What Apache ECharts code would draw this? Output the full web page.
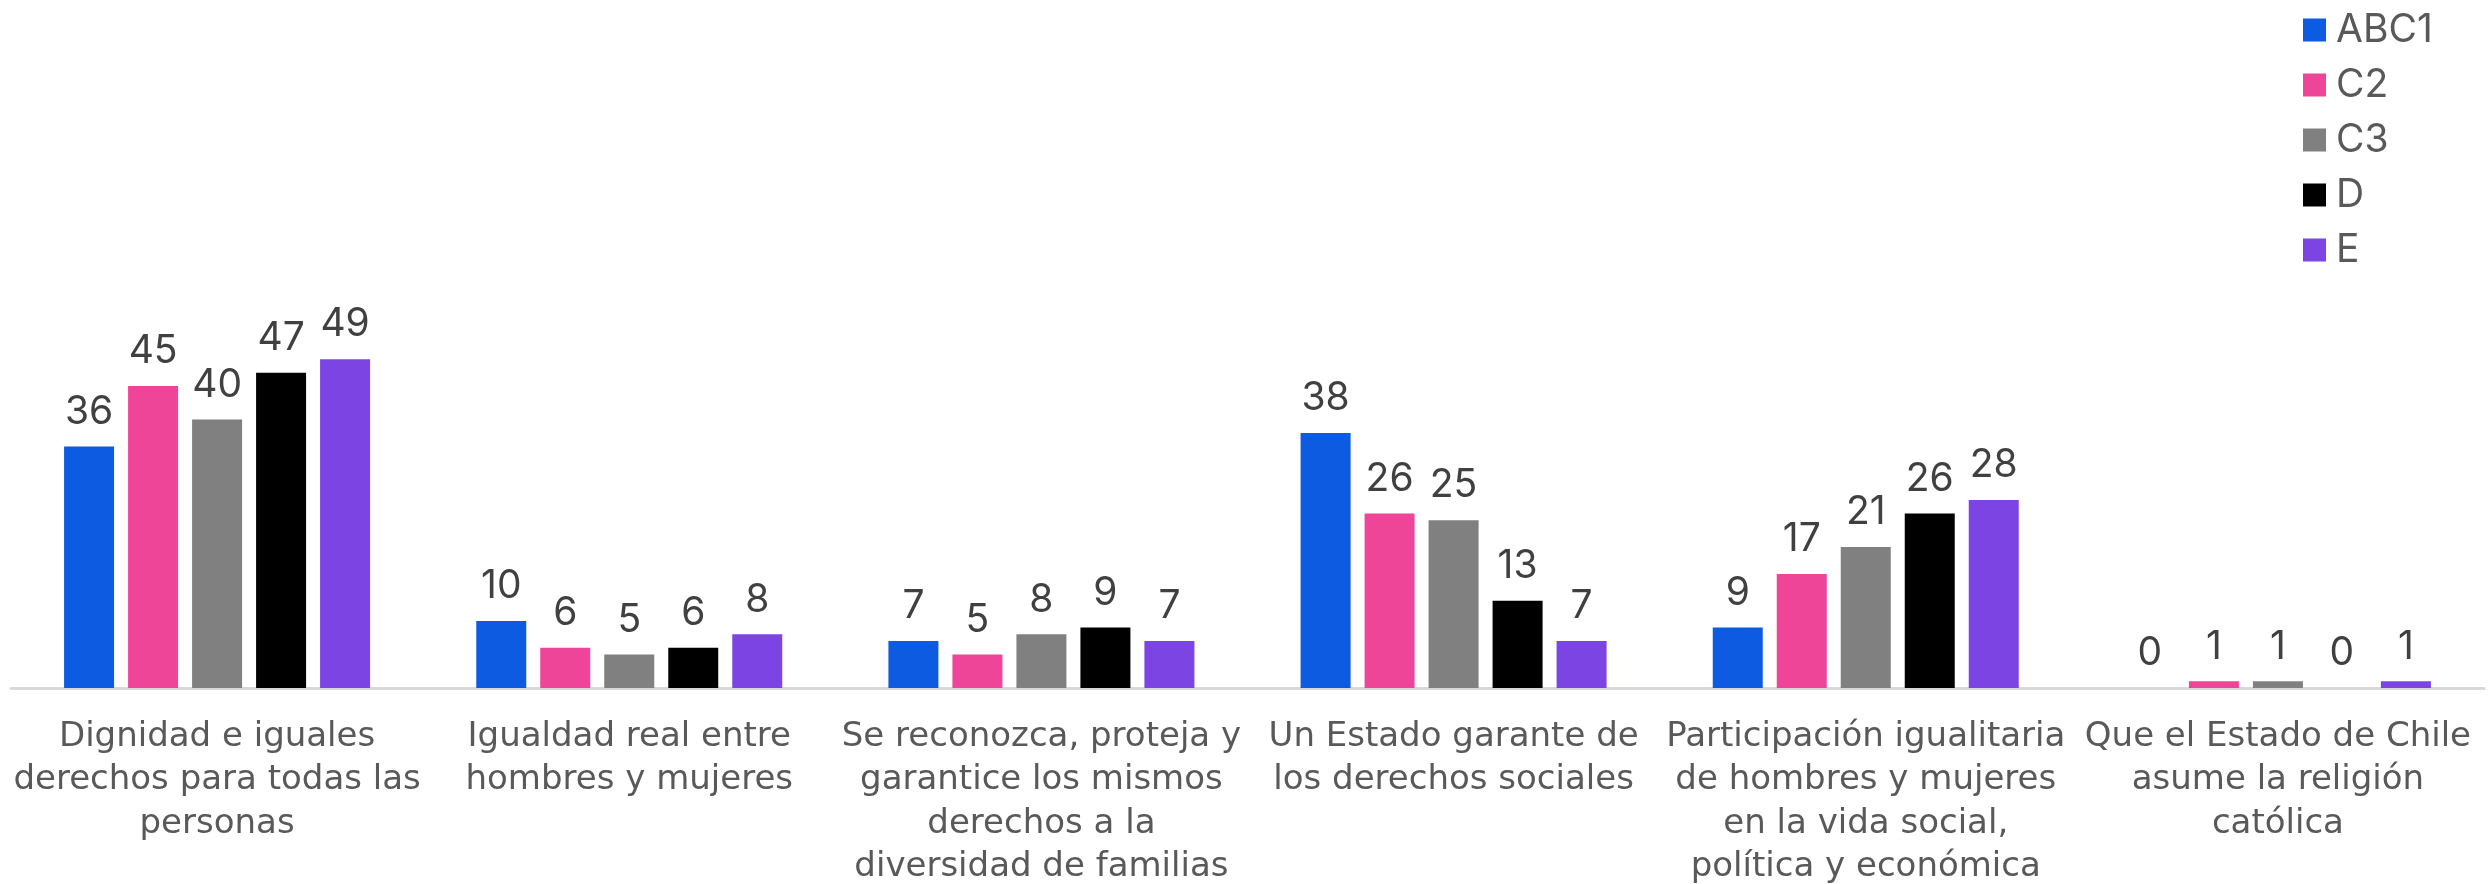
<!DOCTYPE html>
<html>
<head>
<meta charset="utf-8">
<script src="https://cdn.jsdelivr.net/npm/echarts@6/dist/echarts.min.js"></script>
<style>
  html, body { margin: 0; padding: 0; background: #ffffff; }
  #chart { width: 2489px; height: 884px; }
</style>
</head>
<body>
<div id="chart"></div>
<script>
// Prioridades constitucionales por grupo socioeconómico (%)
const categories = [
  'Dignidad e iguales\nderechos para todas las\npersonas',
  'Igualdad real entre\nhombres y mujeres',
  'Se reconozca, proteja y\ngarantice los mismos\nderechos a la\ndiversidad de familias',
  'Un Estado garante de\nlos derechos sociales',
  'Participación igualitaria\nde hombres y mujeres\nen la vida social,\npolítica y económica',
  'Que el Estado de Chile\nasume la religión\ncatólica'
];

const seriesNames = ['ABC1', 'C2', 'C3', 'D', 'E'];

const abc1 = [36, 10, 7, 38, 9, 0];
const c2   = [45, 6, 5, 26, 17, 1];
const c3   = [40, 5, 8, 25, 21, 1];
const d    = [47, 6, 9, 13, 26, 0];
const e    = [49, 8, 7, 7, 28, 1];

const seriesValues = [abc1, c2, c3, d, e];
const colors = ['#0D5BE1', '#EE4599', '#808080', '#000000', '#7D44E4'];

const FONT = 'Inter';
const LABEL_FONT = 'DejaVu Sans';

const chart = echarts.init(document.getElementById('chart'), null, { renderer: 'canvas' });

chart.setOption({
  animation: false,
  backgroundColor: '#ffffff',
  color: colors,
  textStyle: { fontFamily: FONT },
  legend: {
    orient: 'vertical',
    left: 2298,
    top: 5,
    itemWidth: 23,
    itemHeight: 23,
    itemGap: 15,
    icon: 'rect',
    data: seriesNames,
    textStyle: {
      color: '#595959',
      fontSize: 39,
      fontFamily: FONT,
      lineHeight: 40,
      padding: [0, 0, 0, 5]
    }
  },
  grid: {
    left: 11,
    right: 5,
    top: 17,
    bottom: 196,
    containLabel: false,
    outerBoundsMode: 'none'
  },
  xAxis: {
    type: 'category',
    data: categories,
    axisTick: { show: false },
    axisLine: { lineStyle: { color: '#D9D9D9', width: 3 } },
    axisLabel: {
      interval: 0,
      color: '#595959',
      fontSize: 34,
      lineHeight: 43.5,
      margin: 27,
      fontFamily: LABEL_FONT
    }
  },
  yAxis: {
    type: 'value',
    min: 0,
    max: 100,
    show: false,
    splitLine: { show: false }
  },
  series: seriesValues.map((vals, i) => ({
    name: seriesNames[i],
    type: 'bar',
    data: vals,
    barWidth: 50,
    barGap: '28%',
    itemStyle: { color: colors[i] },
    label: {
      show: true,
      position: 'top',
      distance: 15,
      color: '#404040',
      fontSize: 39,
      fontFamily: FONT
    }
  }))
});
</script>
</body>
</html>
